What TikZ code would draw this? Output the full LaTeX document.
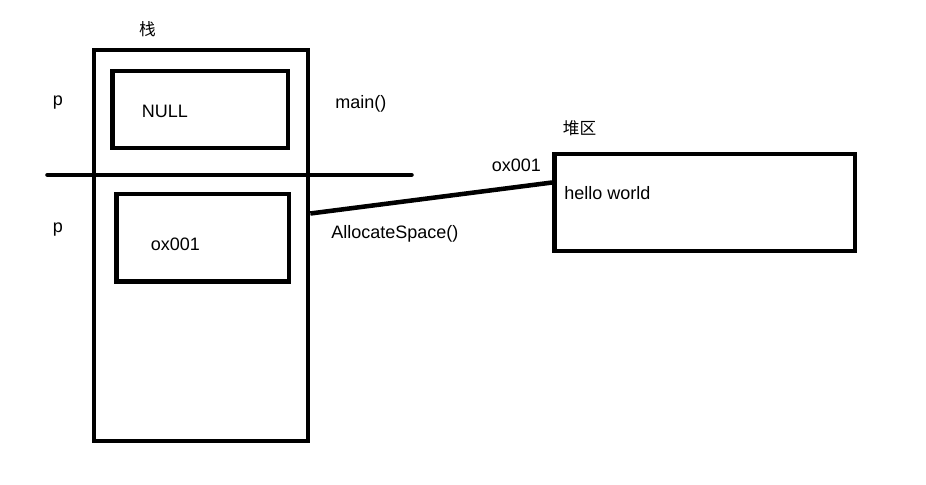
\documentclass[tikz,border=0pt]{standalone}
\usepackage{fontspec}
\setmainfont{Liberation Sans}
\newfontfamily\cjk{Noto Sans CJK SC}
\begin{document}
\begin{tikzpicture}[x=0.75pt,y=-0.75pt,
  box/.style={draw=black,line width=3.5pt,rectangle,inner sep=0pt},
  lbl/.style={inner sep=0pt,anchor=base west,font=\fontsize{13.5pt}{16pt}\selectfont},
  clbl/.style={inner sep=0pt,font=\cjk\fontsize{12.5pt}{15pt}\selectfont},
  conn/.style={draw=black,line width=3.4pt}]
\useasboundingbox[fill=white] (0,0) rectangle (926,485);
% stack
\node[box,minimum width=214*0.75pt,minimum height=391*0.75pt] (stack) at (201,245.5) {};
\node[box,minimum width=175.5*0.75pt,minimum height=77*0.75pt] (nullbox) at (200.25,109.5) {};
\node[box,minimum width=172.5*0.75pt,minimum height=87.5*0.75pt] (oxbox) at (202.75,237.75) {};
% heap
\node[box,minimum width=300.5*0.75pt,minimum height=97*0.75pt] (heap) at (704.75,202.5) {};
% divider
\coordinate (dl) at (47.5,175);
\coordinate (dr) at (411.5,175);
\draw[conn,line cap=round] (dl) -- (dr);
% connector
\coordinate (cs) at (stack.east |- 0,213.5);
\coordinate (ce) at (heap.west |- 0,182.5);
\draw[conn] (cs) -- (ce);
% labels
\node[clbl] (zhan) at (147.5,29) {栈};
\node[clbl] (dui) at (579.5,128) {堆区};
\node[lbl] (p1) at (52.7,105.7) {p};
\node[lbl] (p2) at (52.7,233) {p};
\node[lbl] (nulltxt) at (141.7,117.7) {NULL};
\node[lbl] (oxtxt) at (150.7,250.7) {ox001};
\node[lbl] (maintxt) at (335,108.3) {main()};
\node[lbl] (oxtop) at (491.7,171.7) {ox001};
\node[lbl] (alloc) at (331,238.3) {AllocateSpace()};
\node[lbl] (hello) at (564,199.3) {hello world};
\end{tikzpicture}
\end{document}
